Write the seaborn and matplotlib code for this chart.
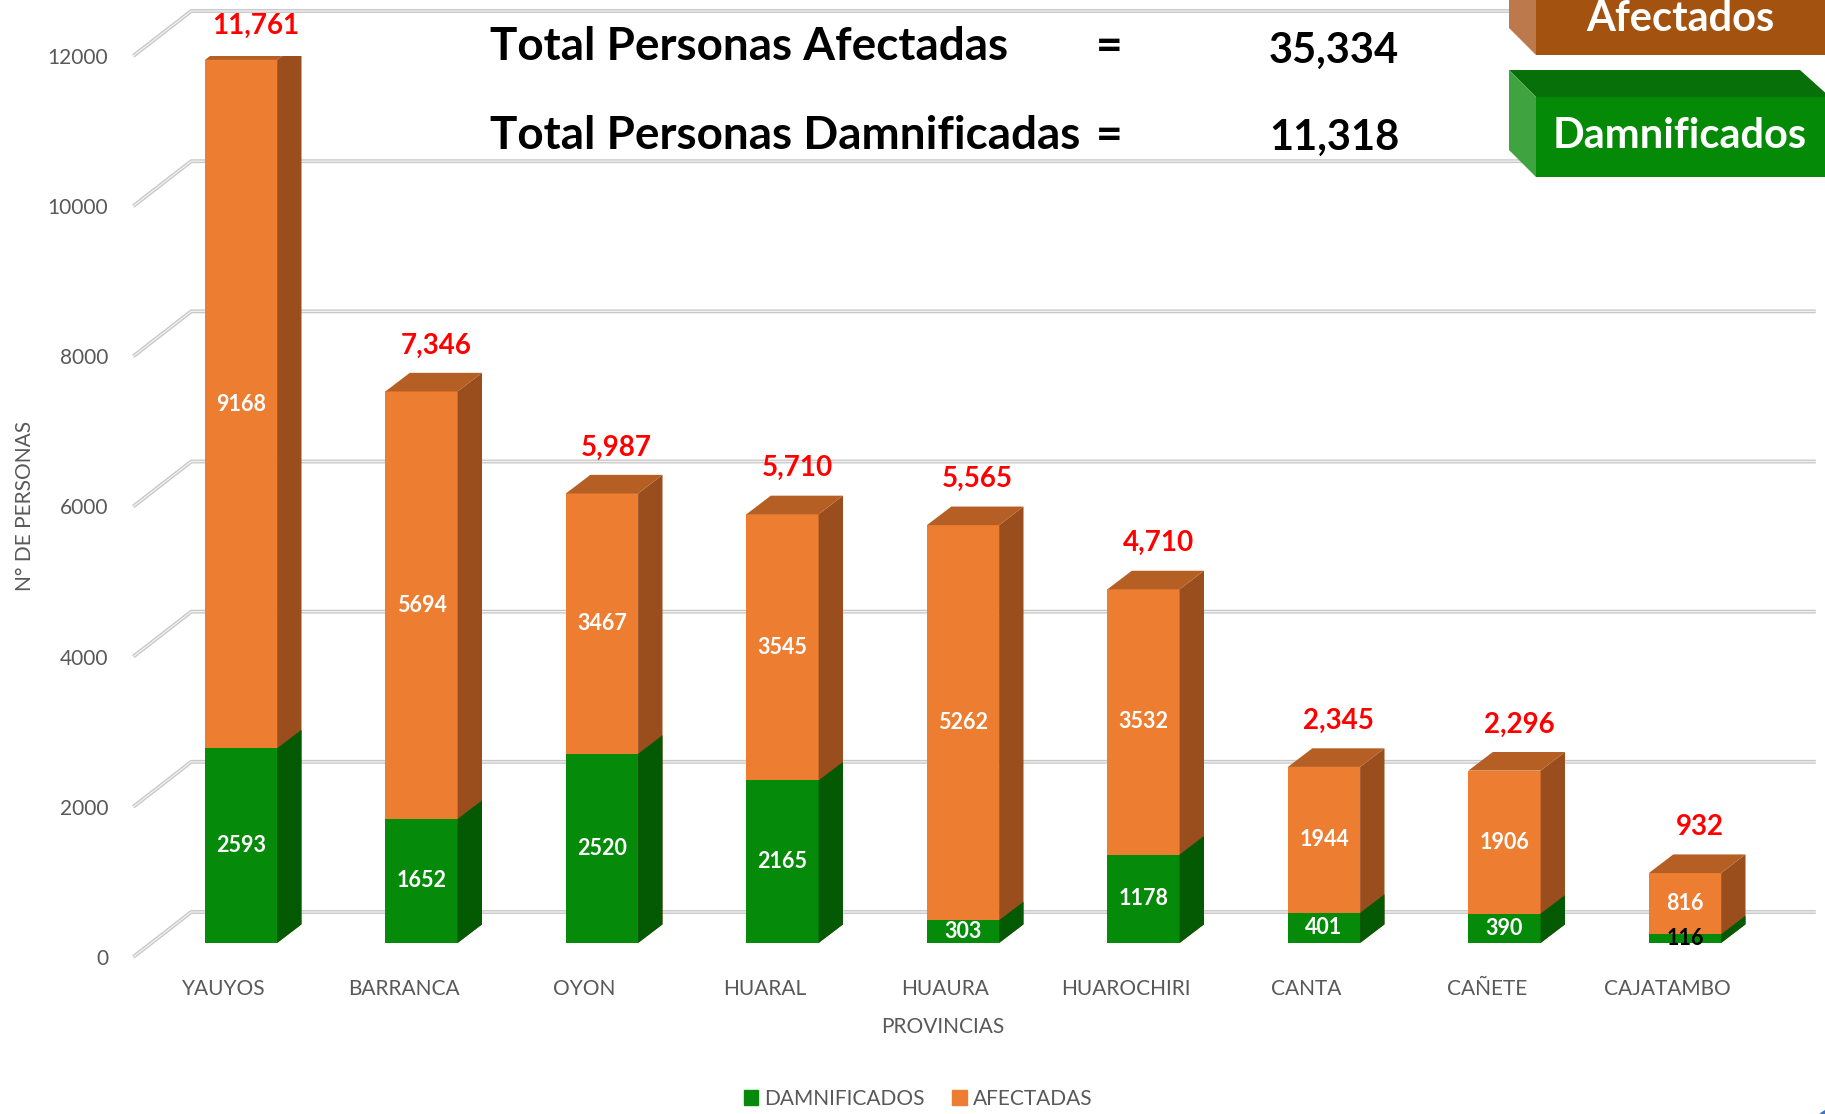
import matplotlib
matplotlib.use("Agg")
import pandas as pd
import matplotlib.pyplot as plt
import matplotlib.transforms as mtransforms
from matplotlib.patches import Polygon, Rectangle, Circle
import seaborn as sns

provincias = ['YAUYOS', 'BARRANCA', 'OYON', 'HUARAL', 'HUAURA', 'HUAROCHIRI', 'CANTA', 'CAÑETE', 'CAJATAMBO']
damnificados = [2593, 1652, 2520, 2165, 303, 1178, 401, 390, 116]
afectadas = [9168, 5694, 3467, 3545, 5262, 3532, 1944, 1906, 816]
y_ticks = [0, 2000, 4000, 6000, 8000, 10000, 12000]

df = pd.DataFrame({'provincia': provincias, 'damnificados': damnificados, 'afectadas': afectadas})
df['total'] = df['damnificados'] + df['afectadas']

ORANGE, ORANGE_TOP, ORANGE_SIDE = '#ED7D31', '#B55F24', '#9A4E1E'
GREEN, GREEN_TOP, GREEN_SIDE = '#068A09', '#047005', '#035A03'
GREY = '#595959'

sns.set_theme(style='white')
plt.rcParams['font.family'] = ['Lato', 'DejaVu Sans']

W, H = 1825, 1114
fig = plt.figure(figsize=(W / 100, H / 100), dpi=100)
ax = fig.add_axes([133.25 / W, 157 / H, 1624.5 / W, 901 / H])

# depth of the fake 3d (data units)
px_x, px_y = 1 / 180.5, 12000 / 901
DX, DY = 24.4 * px_x, 18.6 * px_y          # bar depth
WX, WY = 58 * px_x, 45 * px_y              # back wall offset
shift = ax.transData + mtransforms.ScaledTranslation(17.5 / 100, 14 / 100, fig.dpi_scale_trans)

# back wall grid
for y in y_ticks:
    xs = [-0.5, -0.5 + WX, 8.5 + WX]
    ys = [y, y + WY, y + WY]
    ax.plot(xs, ys, color='#C8C8C8', lw=2.8, clip_on=False, zorder=1, solid_capstyle='butt')
    ax.plot(xs, ys, color='#F2F2F2', lw=0.9, clip_on=False, zorder=1, solid_capstyle='butt')

sns.barplot(data=df, x='provincia', y='total', color=ORANGE, saturation=1, width=0.40, linewidth=0, ax=ax, zorder=3)
sns.barplot(data=df, x='provincia', y='damnificados', color=GREEN, saturation=1, width=0.40, linewidth=0, ax=ax, zorder=4)

n = len(provincias)
for k, p in enumerate(ax.patches):
    p.set_transform(shift)
    x0, x1 = p.get_x(), p.get_x() + p.get_width()
    y0, y1 = p.get_y(), p.get_y() + p.get_height()
    side_c, top_c = (ORANGE_SIDE, ORANGE_TOP) if k < n else (GREEN_SIDE, GREEN_TOP)
    z = p.get_zorder()
    side = Polygon([(x1, y0), (x1 + DX, y0 + DY), (x1 + DX, y1 + DY), (x1, y1)],
                   closed=True, facecolor=side_c, edgecolor='none', transform=shift, zorder=z)
    top = Polygon([(x0, y1), (x0 + DX, y1 + DY), (x1 + DX, y1 + DY), (x1, y1)],
                  closed=True, facecolor=top_c, edgecolor='none', transform=shift, zorder=z)
    ax.add_patch(side)
    if k < n:
        ax.add_patch(top)

# labels
for i, row in df.iterrows():
    ax.text(i, row['damnificados'] / 2, str(row['damnificados']),
            color='white' if row['damnificados'] > 200 else 'black',
            fontsize=15.5, fontweight='bold', ha='center', va='center', transform=shift, zorder=6)
    ax.text(i, row['damnificados'] + row['afectadas'] / 2, str(row['afectadas']),
            color='white', fontsize=15.5, fontweight='bold', ha='center', va='center', transform=shift, zorder=6)
    ax.text(i + 0.097 + DX * 0.6, min(row['total'] + 800, 12400), f"{row['total']:,}",
            color='red', fontsize=20, fontweight='bold', ha='center', va='center', clip_on=False, zorder=6)

ax.set_xlim(-0.5, 8.5)
ax.set_ylim(0, 12000)
ax.set_yticks(y_ticks)
ax.set_yticklabels([str(v) for v in y_ticks])
ax.tick_params(axis='y', length=0, pad=18, labelsize=15, labelcolor=GREY)
ax.tick_params(axis='x', length=0, pad=16, labelsize=15, labelcolor=GREY)
ax.set_xlabel('')
ax.set_ylabel('')
ax.grid(False)
for s in ax.spines.values():
    s.set_visible(False)

fig.text(25 / W, 1 - 506 / H, 'N° DE PERSONAS', rotation=90, ha='center', va='center', fontsize=15, color=GREY)
fig.text(943 / W, 1 - 1027 / H, 'PROVINCIAS', ha='center', va='center', fontsize=15, color=GREY)

# totals
big = dict(fontsize=33, fontweight='bold', color='black', va='center')
num = dict(big, fontsize=30)
fig.text(490 / W, 1 - 47 / H, 'Total Personas Afectadas', ha='left', **big)
fig.text(1109 / W, 1 - 47 / H, '=', ha='center', **big)
fig.text(1269 / W, 1 - 51 / H, f"{sum(afectadas):,}", ha='left', **num)
fig.text(490 / W, 1 - 136 / H, 'Total Personas Damnificadas', ha='left', **big)
fig.text(1109 / W, 1 - 136 / H, '=', ha='center', **big)
fig.text(1269 / W, 1 - 138 / H, f"{sum(damnificados):,}", ha='left', **num)

# 3d boxes top right
def fpoly(pts, color):
    fig.patches.append(Polygon([(x / W, 1 - y / H) for x, y in pts], closed=True,
                               facecolor=color, edgecolor='none', transform=fig.transFigure))

fpoly([(1509, -52), (1536, -25), (1536, 55), (1509, 28)], '#BC7A4C')
fpoly([(1536, -25), (1830, -25), (1830, 55), (1536, 55)], '#A3520F')
fig.text(1680 / W, 1 - 19 / H, 'Afectados', ha='center', va='center', fontsize=30, fontweight='bold', color='white')

fpoly([(1509, 70), (1800, 70), (1830, 97), (1536, 97)], '#077008')
fpoly([(1509, 70), (1536, 97), (1536, 177), (1509, 150)], '#3FA33F')
fpoly([(1536, 97), (1830, 97), (1830, 177), (1536, 177)], '#058A07')
fig.text(1680 / W, 1 - 136 / H, 'Damnificados', ha='center', va='center', fontsize=30, fontweight='bold', color='white')

fig.patches.append(Circle((1852 / W, 1 - 1128 / H), 40 / W, facecolor='#3A76C4', edgecolor='none',
                          transform=fig.transFigure))

handles = [Rectangle((0, 0), 1, 1, color=GREEN), Rectangle((0, 0), 1, 1, color=ORANGE)]
fig.legend(handles, ['DAMNIFICADOS', 'AFECTADAS'], loc='lower center', bbox_to_anchor=(0.503, -0.012),
           ncol=2, frameon=False, fontsize=15, labelcolor=GREY, handlelength=0.7, handleheight=0.7,
           handletextpad=0.3, columnspacing=1.3)

fig.savefig('out.png', dpi=100)
